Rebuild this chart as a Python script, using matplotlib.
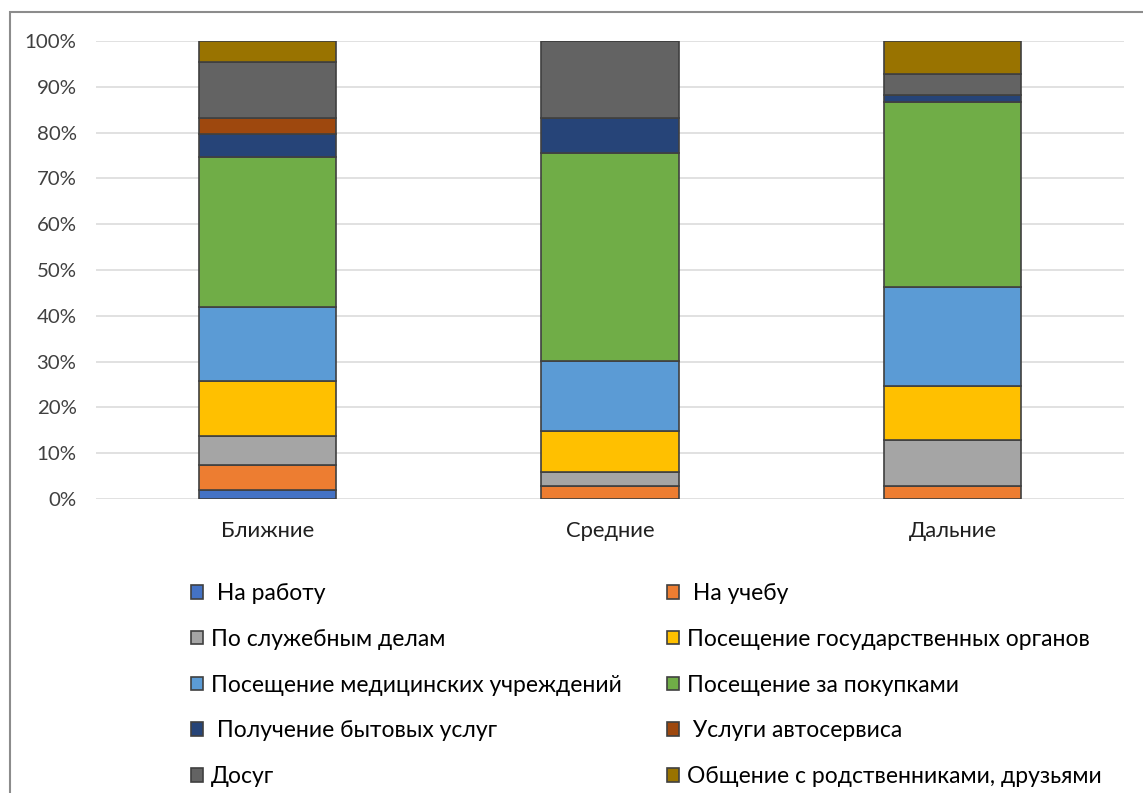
import numpy as np
import matplotlib
matplotlib.use("Agg")
import matplotlib.pyplot as plt
from matplotlib.patches import Rectangle

plt.rcParams['font.family'] = ['Lato', 'DejaVu Sans']

categories = ["Ближние", "Средние", "Дальние"]
labels = [" На работу", " На учебу", "По служебным делам",
          "Посещение государственных органов",
          "Посещение медицинских учреждений", "Посещение за покупками",
          " Получение бытовых услуг", " Услуги автосервиса", "Досуг",
          "Общение с родственниками, друзьями"]
colors = ["#4472C4", "#ED7D31", "#A5A5A5", "#FFC000", "#5B9BD5",
          "#70AD47", "#264478", "#9E480E", "#636363", "#997300"]

# shares in %, one list per purpose: [Ближние, Средние, Дальние]
na_rabotu = [2.0, 0.0, 0.0]
na_uchebu = [5.4, 2.8, 2.8]
sluzhebnye = [6.3, 3.0, 10.1]
gos_organy = [12.0, 9.1, 11.8]
medicina = [16.2, 15.2, 21.6]
pokupki = [32.7, 45.5, 40.4]
bytovye = [5.2, 7.6, 1.6]
avtoservis = [3.4, 0.0, 0.0]
dosug = [12.3, 16.8, 4.4]
obshchenie = [4.5, 0.0, 7.3]

series = [na_rabotu, na_uchebu, sluzhebnye, gos_organy, medicina,
          pokupki, bytovye, avtoservis, dosug, obshchenie]

W, H = 1143, 793
fig = plt.figure(figsize=(W / 100, H / 100), dpi=100)
ax = fig.add_axes([96 / W, 1 - 499 / H, (1124 - 96) / W, 458 / H])

data = np.array(series, dtype=float)
data = data / data.sum(axis=0)  # 100% stacked
x = np.arange(len(categories))
bottom = np.zeros(len(categories))
handles = []
for k in range(len(series)):
    h = ax.bar(x, data[k], 0.4, bottom=bottom, color=colors[k],
               edgecolor="#404040", linewidth=1.2, zorder=3, label=labels[k])
    handles.append(h)
    bottom += data[k]

ax.set_xlim(-0.5, 2.5)
ax.set_ylim(0, 1)
ax.set_yticks(np.linspace(0, 1, 11))
ax.set_yticklabels([f"{v}%" for v in range(0, 101, 10)])
ax.set_xticks(x)
ax.set_xticklabels(categories)
ax.tick_params(axis='y', length=0, pad=14, labelsize=14.7, labelcolor="#404040")
ax.tick_params(axis='x', length=0, pad=16, labelsize=15.8, labelcolor="#202020")
ax.grid(axis='y', color="#D9D9D9", linewidth=1.1, zorder=0)
for s in ax.spines.values():
    s.set_visible(False)

# legend: two fixed columns, row-major order
leg_kw = dict(loc='upper left', frameon=False, fontsize=16.5, borderpad=0,
              handlelength=0.52, handleheight=0.52, handletextpad=0.35,
              labelspacing=1.08, borderaxespad=0)
col1 = [handles[i] for i in range(0, 10, 2)]
col2 = [handles[i] for i in range(1, 10, 2)]
fig.legend(col1, [labels[i] for i in range(0, 10, 2)],
           bbox_to_anchor=(191 / W, 1 - 583 / H), **leg_kw)
fig.legend(col2, [labels[i] for i in range(1, 10, 2)],
           bbox_to_anchor=(667 / W, 1 - 583 / H), **leg_kw)

# chart-area border (only left and top visible in the crop)
fig.patches.append(Rectangle((10 / W, -0.1), 1.2, 1 - 12 / H + 0.1,
                             transform=fig.transFigure, fill=False,
                             edgecolor="#8C8C8C", linewidth=1.5))

fig.savefig("out.png", dpi=100)
